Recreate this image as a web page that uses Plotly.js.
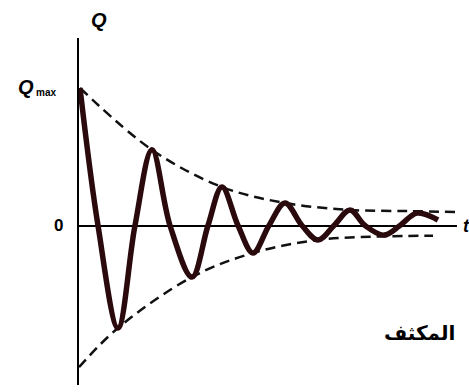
<!DOCTYPE html>
<html><head><meta charset="utf-8">
<script src="https://cdn.plot.ly/plotly-3.0.1.min.js"></script>
<style>html,body{margin:0;padding:0;background:#fff;}#chart{width:469px;height:392px;}</style>
</head><body><div id="chart"></div>
<script>
// time (arbitrary units) and charge Q (in units of Qmax)
const tCurve = [1, 19, 39, 56, 73, 91, 113, 129, 143, 159, 174, 190, 206, 223, 239, 255, 271, 286, 305, 321, 338, 359];
const qCurve = [1.0, 0, -0.745, 0, 0.55, 0, -0.375, 0, 0.28, 0, -0.20, 0, 0.164, 0, -0.105, 0, 0.113, 0, -0.07, 0, 0.09, 0.04];
const tUpper = [1, 73, 143, 206, 271, 330, 376];
const qUpper = [1.0, 0.55, 0.28, 0.164, 0.113, 0.105, 0.098];
const tLower = [0, 39, 113, 174, 239, 300, 354];
const qLower = [-1.03, -0.745, -0.375, -0.20, -0.105, -0.08, -0.075];
const labels = {axisY: 'Q', qmax: 'Q', qmaxSub: 'max', zero: '0', axisX: 't', caption: 'المكثف'};

const traces = [
  {x: tUpper, y: qUpper, mode: 'lines', line: {color: '#111', width: 2.5, dash: '10px,6px', shape: 'spline'}, hoverinfo: 'skip'},
  {x: tLower, y: qLower, mode: 'lines', line: {color: '#111', width: 2.5, dash: '10px,6px', shape: 'spline'}, hoverinfo: 'skip'},
  {x: tCurve, y: qCurve, mode: 'lines', line: {color: '#2a0a0c', width: 5.5, shape: 'spline', smoothing: 1}, hoverinfo: 'skip'}
];

const layout = {
  width: 469, height: 392,
  margin: {l: 79, r: 12, t: 38, b: 7},
  paper_bgcolor: '#fff', plot_bgcolor: '#fff',
  showlegend: false,
  xaxis: {range: [0, 378], showgrid: false, zeroline: false, showticklabels: false, ticks: '', showline: false},
  yaxis: {range: [-1.16, 1.3636], showgrid: false, zeroline: true, zerolinecolor: '#000', zerolinewidth: 2,
          showticklabels: false, ticks: '', showline: true, linecolor: '#000', linewidth: 2},
  annotations: [
    {xref: 'paper', yref: 'paper', x: 10/378, y: 1, yshift: 31, text: '<b><i>' + labels.axisY + '</i></b>', showarrow: false,
     font: {family: 'Liberation Sans', size: 20, color: '#000'}},
    {xref: 'x', yref: 'y', x: 0, y: 1.0, xshift: -63, yshift: 1, text: '<b><i>' + labels.qmax + '</i></b>', showarrow: false, xanchor: 'left',
     font: {family: 'Liberation Sans', size: 20, color: '#000'}},
    {xref: 'x', yref: 'y', x: 0, y: 1.0, xshift: -45, yshift: -4, text: '<b>' + labels.qmaxSub + '</b>', showarrow: false, xanchor: 'left',
     font: {family: 'Liberation Sans', size: 10, color: '#000'}},
    {xref: 'x', yref: 'y', x: 0, y: 0, xshift: -21, text: '<b>' + labels.zero + '</b>', showarrow: false,
     font: {family: 'Liberation Sans', size: 17, color: '#000'}},
    {xref: 'paper', yref: 'y', x: 1, y: 0, xshift: 4, text: '<b><i>' + labels.axisX + '</i></b>', showarrow: false, xanchor: 'left',
     font: {family: 'Liberation Sans', size: 18, color: '#000'}},
    {xref: 'x', yref: 'y', x: 340, y: -0.78, text: '<b>' + labels.caption + '</b>', showarrow: false,
     font: {family: 'Noto Sans, DejaVu Sans', size: 20, color: '#000'}}
  ]
};

Plotly.newPlot('chart', traces, layout, {staticPlot: true, displayModeBar: false});
</script></body></html>
